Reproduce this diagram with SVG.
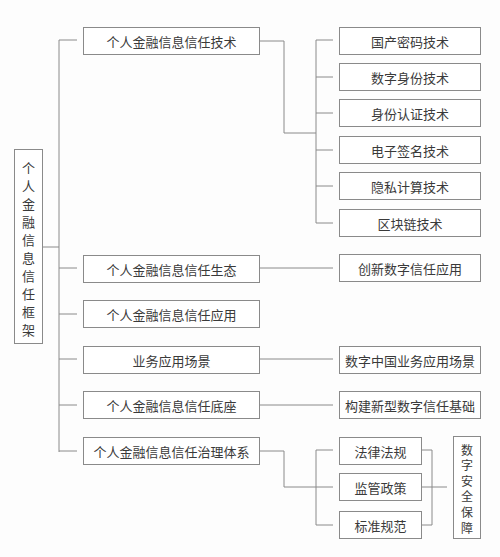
<svg xmlns="http://www.w3.org/2000/svg" width="500" height="557" viewBox="0 0 500 557">
<style>
.bx{fill:#fff;stroke:#8a8a8a;stroke-width:1}
.t{font-family:"Noto Sans CJK SC","Noto Sans",sans-serif;font-size:13px;fill:#3a3a3a;text-anchor:middle;dominant-baseline:central}
.vs{font-size:12px}
.ln{fill:none;stroke:#8a8a8a;stroke-width:1}
</style>
<rect width="500" height="557" fill="#fdfdfd"/>
<g id="connectors" class="ln">
<path d="M42 247H59M59 40V452M59 40H77M59 268H77M59 314H77M59 359H77M59 405H77M59 451H77"/>
<path d="M259 41H284V133H316M316 40V223M316 40H333M316 77H333M316 113H333M316 150H333M316 186H333M316 223H333"/>
<path d="M259 268H333M259 359H333M259 405H333"/>
<path d="M259 451H284V487H333M316 450V525M316 450H333M316 525H333"/>
<path d="M421 450H432V525H421M421 487H447"/>
</g>
<g id="root"><rect class="bx" x="14.5" y="149.5" width="28" height="194"/>
<text class="t" x="28.5" y="167">个</text><text class="t" x="28.5" y="185">人</text><text class="t" x="28.5" y="203">金</text><text class="t" x="28.5" y="221">融</text><text class="t" x="28.5" y="239">信</text><text class="t" x="28.5" y="257">息</text><text class="t" x="28.5" y="275">信</text><text class="t" x="28.5" y="293">任</text><text class="t" x="28.5" y="311">框</text><text class="t" x="28.5" y="329">架</text></g>
<g id="n1"><rect class="bx" x="83.5" y="27.5" width="176" height="27"/><text class="t" x="171.5" y="41">个人金融信息信任技术</text></g>
<g id="n2"><rect class="bx" x="83.5" y="255.5" width="176" height="27"/><text class="t" x="171.5" y="269">个人金融信息信任生态</text></g>
<g id="n3"><rect class="bx" x="83.5" y="300.5" width="176" height="27"/><text class="t" x="171.5" y="314">个人金融信息信任应用</text></g>
<g id="n4"><rect class="bx" x="83.5" y="346.5" width="176" height="27"/><text class="t" x="171.5" y="360">业务应用场景</text></g>
<g id="n5"><rect class="bx" x="83.5" y="391.5" width="176" height="27"/><text class="t" x="171.5" y="405">个人金融信息信任底座</text></g>
<g id="n6"><rect class="bx" x="83.5" y="437.5" width="176" height="27"/><text class="t" x="171.5" y="451">个人金融信息信任治理体系</text></g>
<g id="t1"><rect class="bx" x="339.5" y="27.5" width="141" height="27"/><text class="t" x="410" y="41">国产密码技术</text></g>
<g id="t2"><rect class="bx" x="339.5" y="63.5" width="141" height="27"/><text class="t" x="410" y="77">数字身份技术</text></g>
<g id="t3"><rect class="bx" x="339.5" y="99.5" width="141" height="27"/><text class="t" x="410" y="113">身份认证技术</text></g>
<g id="t4"><rect class="bx" x="339.5" y="136.5" width="141" height="27"/><text class="t" x="410" y="150">电子签名技术</text></g>
<g id="t5"><rect class="bx" x="339.5" y="172.5" width="141" height="27"/><text class="t" x="410" y="186">隐私计算技术</text></g>
<g id="t6"><rect class="bx" x="339.5" y="209.5" width="141" height="27"/><text class="t" x="410" y="223">区块链技术</text></g>
<g id="e1"><rect class="bx" x="339.5" y="254.5" width="141" height="27"/><text class="t" x="410" y="268">创新数字信任应用</text></g>
<g id="s1"><rect class="bx" x="339.5" y="346.5" width="141" height="27"/><text class="t" x="410" y="360">数字中国业务应用场景</text></g>
<g id="b1"><rect class="bx" x="339.5" y="391.5" width="141" height="27"/><text class="t" x="410" y="405">构建新型数字信任基础</text></g>
<g id="g1"><rect class="bx" x="339.5" y="437.5" width="82" height="27"/><text class="t" x="380.5" y="451">法律法规</text></g>
<g id="g2"><rect class="bx" x="339.5" y="473.5" width="82" height="27"/><text class="t" x="380.5" y="487">监管政策</text></g>
<g id="g3"><rect class="bx" x="339.5" y="511.5" width="82" height="27"/><text class="t" x="380.5" y="525">标准规范</text></g>
<g id="sec"><rect class="bx" x="453.5" y="436.5" width="27" height="102"/>
<text class="t vs" x="467" y="449">数</text><text class="t vs" x="467" y="464.6">字</text><text class="t vs" x="467" y="480.2">安</text><text class="t vs" x="467" y="495.8">全</text><text class="t vs" x="467" y="511.4">保</text><text class="t vs" x="467" y="527">障</text></g>
</svg>
